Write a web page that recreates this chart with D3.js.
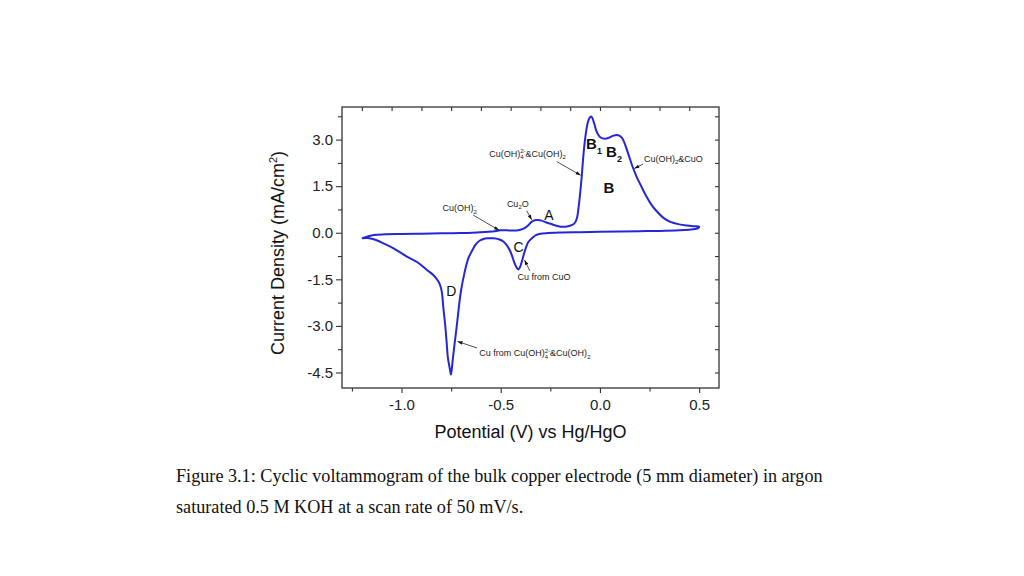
<!DOCTYPE html>
<html><head><meta charset="utf-8">
<script src="https://cdn.jsdelivr.net/npm/d3@7"></script>
<style>
html,body{margin:0;padding:0;background:#fff;}
svg{display:block;}
</style></head><body>
<svg id="chart" width="1024" height="576"></svg>
<script>
// ---- data (potential V vs Hg/HgO, current density mA/cm2) ----
const anodicScan = [
 [-1.20,-0.18],[-1.17,-0.12],[-1.14,-0.07],[-1.08,-0.05],[-1.00,-0.04],[-0.90,-0.03],[-0.80,-0.02],
 [-0.70,-0.01],[-0.62,0.01],[-0.56,0.03],[-0.52,0.06],[-0.50,0.08],[-0.47,0.08],[-0.44,0.07],
 [-0.41,0.08],[-0.385,0.13],[-0.365,0.22],[-0.345,0.35],[-0.328,0.40],[-0.312,0.41],[-0.295,0.39],
 [-0.27,0.33],[-0.245,0.28],[-0.215,0.22],[-0.185,0.19],[-0.16,0.21],[-0.14,0.25],[-0.125,0.33],
 [-0.115,0.50],[-0.108,0.80],[-0.100,1.25],[-0.092,1.80],[-0.084,2.45],[-0.077,2.90],[-0.070,3.25],
 [-0.060,3.58],[-0.050,3.72],[-0.043,3.74],[-0.036,3.66],[-0.028,3.50],[-0.018,3.28],[-0.008,3.15],
 [0.005,3.06],[0.025,3.03],[0.045,3.06],[0.065,3.12],[0.084,3.15],[0.098,3.13],[0.110,3.06],
 [0.122,2.92],[0.134,2.71],[0.150,2.40],[0.168,2.07],[0.185,1.80],[0.201,1.59],[0.218,1.37],
 [0.235,1.16],[0.26,0.90],[0.285,0.70],[0.32,0.48],[0.352,0.36],[0.40,0.27],[0.44,0.23],
 [0.47,0.21],[0.50,0.19]
];
const cathodicScan = [
 [0.50,0.19],[0.495,0.15],[0.48,0.12],[0.45,0.10],[0.40,0.08],[0.30,0.06],[0.20,0.05],[0.10,0.04],
 [0.00,0.03],[-0.10,0.02],[-0.20,0.01],[-0.26,-0.01],[-0.30,-0.03],[-0.32,-0.07],[-0.34,-0.16],
 [-0.361,-0.30],[-0.375,-0.52],[-0.386,-0.75],[-0.396,-0.98],[-0.404,-1.12],[-0.411,-1.18],
 [-0.418,-1.14],[-0.428,-1.02],[-0.44,-0.80],[-0.453,-0.58],[-0.47,-0.40],[-0.487,-0.28],
 [-0.51,-0.21],[-0.537,-0.18],[-0.565,-0.18],[-0.587,-0.20],[-0.605,-0.25],[-0.625,-0.37],
 [-0.642,-0.55],[-0.663,-0.82],[-0.683,-1.30],[-0.701,-1.90],[-0.712,-2.45],[-0.721,-2.97],
 [-0.732,-3.55],[-0.741,-4.04],[-0.747,-4.40],[-0.751,-4.57],[-0.756,-4.40],[-0.766,-4.04],
 [-0.773,-3.50],[-0.780,-2.97],[-0.789,-2.43],[-0.797,-1.90],[-0.805,-1.70],[-0.814,-1.57],
 [-0.84,-1.36],[-0.872,-1.20],[-0.92,-0.95],[-0.973,-0.77],[-1.04,-0.50],[-1.091,-0.34],
 [-1.14,-0.21],[-1.17,-0.17],[-1.20,-0.18]
];
const xMajorTicks = [-1.0,-0.5,0.0,0.5];
const xMinorTicks = [-1.25,-0.75,-0.25,0.25];
const yMajorTicks = [3.0,1.5,0.0,-1.5,-3.0,-4.5];
const yMinorTicks = [3.75,2.25,0.75,-0.75,-2.25,-3.75];
const topTicks = [-1.2,-1.05,-0.9,-0.75,-0.6,-0.45,-0.3,-0.15,0,0.15,0.3,0.45];
const rightTicks = [3.75,3.0,2.25,1.5,0.75,0,-0.75,-1.5,-2.25,-3.0,-3.75,-4.5];
const xTitle = "Potential (V) vs Hg/HgO";
const captionLines = [
 "Figure 3.1: Cyclic voltammogram of the bulk copper electrode (5 mm diameter) in argon",
 "saturated 0.5 M KOH at a scan rate of 50 mV/s."
];
// peak letters: [text, subscript, V, I, bold]
const peakLabels = [
 ["A","",-0.257,0.57,false],
 ["C","",-0.410,-0.46,false],
 ["D","",-0.749,-1.88,false],
 ["B","",0.045,1.44,true],
 ["B","1",-0.030,2.86,true],
 ["B","2",0.071,2.60,true]
];
// species annotations: segments, text anchor (V,I), arrow tail (V,I), arrow tip (V,I)
const annotations = [
 {segs:[["Cu(OH)","n"],["4","sub"],["2-","supstack"],["&Cu(OH)","n"],["2","sub"]], at:[-0.558,2.44], tail:[-0.217,2.29], tip:[-0.097,1.85]},
 {segs:[["Cu(OH)","n"],["2","sub"],["&CuO","n"]], at:[0.222,2.28], tail:[0.217,2.21], tip:[0.173,2.07]},
 {segs:[["Cu","n"],["2","sub"],["O","n"]], at:[-0.469,0.83], tail:[-0.369,0.71], tip:[-0.344,0.42]},
 {segs:[["Cu(OH)","n"],["2","sub"],["-","supstack"]], at:[-0.793,0.70], tail:[-0.639,0.57], tip:[-0.508,0.08]},
 {segs:[["Cu from CuO","n"]], at:[-0.415,-1.52], tail:[-0.353,-1.23], tip:[-0.380,-0.88]},
 {segs:[["Cu from Cu(OH)","n"],["4","sub"],["2-","supstack"],["&Cu(OH)","n"],["2","sub"]], at:[-0.608,-3.97], tail:[-0.620,-3.71], tip:[-0.718,-3.50]}
];

// ---- layout ----
const svg = d3.select("#chart");
const L = 342, R = 719, T = 107, B = 388;
const x = d3.scaleLinear().domain([-1.3, 0.6]).range([L, R]);
const y = d3.scaleLinear().domain([-5.0, 4.05]).range([B, T]);
const fmt = d => d.toFixed(1);
const axisColor = "#333";
const sans = "Arial, 'Liberation Sans', Helvetica, sans-serif";

svg.append("rect").attr("width",1024).attr("height",576).attr("fill","#fff");

function styleAxis(g){
  g.select(".domain").remove();
  g.selectAll("line").attr("stroke",axisColor).attr("stroke-width",1.1);
  g.selectAll("text").attr("fill","#222").attr("font-family",sans).attr("font-size",15);
}
// bottom
svg.append("g").attr("transform",`translate(0,${B})`)
  .call(d3.axisBottom(x).tickValues(xMajorTicks).tickSize(5).tickPadding(6).tickFormat(fmt)).call(styleAxis);
svg.append("g").attr("transform",`translate(0,${B})`)
  .call(d3.axisBottom(x).tickValues(xMinorTicks).tickSize(3.5).tickFormat("")).call(styleAxis);
// left
svg.append("g").attr("transform",`translate(${L},0)`)
  .call(d3.axisLeft(y).tickValues(yMajorTicks).tickSize(6).tickPadding(3).tickFormat(fmt)).call(styleAxis);
svg.append("g").attr("transform",`translate(${L},0)`)
  .call(d3.axisLeft(y).tickValues(yMinorTicks).tickSize(4).tickFormat("")).call(styleAxis);
// top (inward)
svg.append("g").attr("transform",`translate(0,${T})`)
  .call(d3.axisTop(x).tickValues(topTicks).tickSize(-4).tickFormat("")).call(styleAxis);
// right (inward)
svg.append("g").attr("transform",`translate(${R},0)`)
  .call(d3.axisRight(y).tickValues(rightTicks).tickSize(-4).tickFormat("")).call(styleAxis);

// frame
svg.append("rect").attr("x",L).attr("y",T).attr("width",R-L).attr("height",B-T)
  .attr("fill","none").attr("stroke",axisColor).attr("stroke-width",1.3);

// curve
const line = d3.line().x(d=>x(d[0])).y(d=>y(d[1])).curve(d3.curveCatmullRom.alpha(0.5));
svg.append("path").datum(anodicScan.concat(cathodicScan.slice(1)))
  .attr("d",line).attr("fill","none").attr("stroke","#2626d9").attr("stroke-width",2)
  .attr("stroke-linejoin","round");

// arrow marker
svg.append("defs").append("marker").attr("id","arr").attr("viewBox","0 0 10 10")
  .attr("refX",10).attr("refY",5).attr("markerWidth",6).attr("markerHeight",5)
  .attr("markerUnits","userSpaceOnUse").attr("orient","auto")
  .append("path").attr("d","M0,1.5 L10,5 L0,8.5 Z").attr("fill","#111");

// annotations
annotations.forEach(a=>{
  svg.append("line").attr("x1",x(a.tail[0])).attr("y1",y(a.tail[1]))
    .attr("x2",x(a.tip[0])).attr("y2",y(a.tip[1]))
    .attr("stroke","#222").attr("stroke-width",0.8).attr("marker-end","url(#arr)");
  const t = svg.append("text").attr("x",x(a.at[0])).attr("y",y(a.at[1]))
    .attr("font-family",sans).attr("font-size",9).attr("fill","#222");
  let shift = 0;
  a.segs.forEach(([s,k])=>{
    const ts = t.append("tspan").text(s);
    if(k==="n"){ ts.attr("dy", -shift); shift = 0; }
    else if(k==="sub"){ ts.attr("font-size",6).attr("dy", 2.5-shift); shift = 2.5; }
    else if(k==="supstack"){ ts.attr("font-size",6).attr("dx",-3.4).attr("dy", -3.5-shift); shift = -3.5; }
  });
});

// peak letters
peakLabels.forEach(([s,sub,v,i,bold])=>{
  const t = svg.append("text").attr("x",x(v)).attr("y",y(i)).attr("dy","0.36em")
    .attr("text-anchor","middle").attr("font-family",sans).attr("font-size",bold?15:14)
    .attr("font-weight",bold?"bold":"normal").attr("fill","#111");
  t.append("tspan").text(s);
  if(sub) t.append("tspan").attr("font-size",9).attr("dy",5).text(sub);
});

// axis titles
svg.append("text").attr("x",(L+R)/2).attr("y",438).attr("text-anchor","middle")
  .attr("font-family",sans).attr("font-size",18).attr("fill","#111").text(xTitle);
const yt = svg.append("text").attr("transform","translate(284,253) rotate(-90)")
  .attr("text-anchor","middle").attr("font-family",sans).attr("font-size",18).attr("fill","#111");
yt.append("tspan").text("Current Density (mA/cm");
yt.append("tspan").attr("font-size",11).attr("dy",-7).text("2");
yt.append("tspan").attr("dy",7).text(")");

// caption
const cap = svg.append("g").attr("font-family","'Liberation Serif','Times New Roman',serif").attr("fill","#111");
const c1 = cap.append("text").attr("x",176).attr("y",482).attr("font-size",18).text(captionLines[0]);
const w = c1.node().getComputedTextLength();
const fs = 18*647/w;
c1.attr("font-size",fs);
cap.append("text").attr("x",176).attr("y",513).attr("font-size",fs).text(captionLines[1]);
</script>
</body></html>
